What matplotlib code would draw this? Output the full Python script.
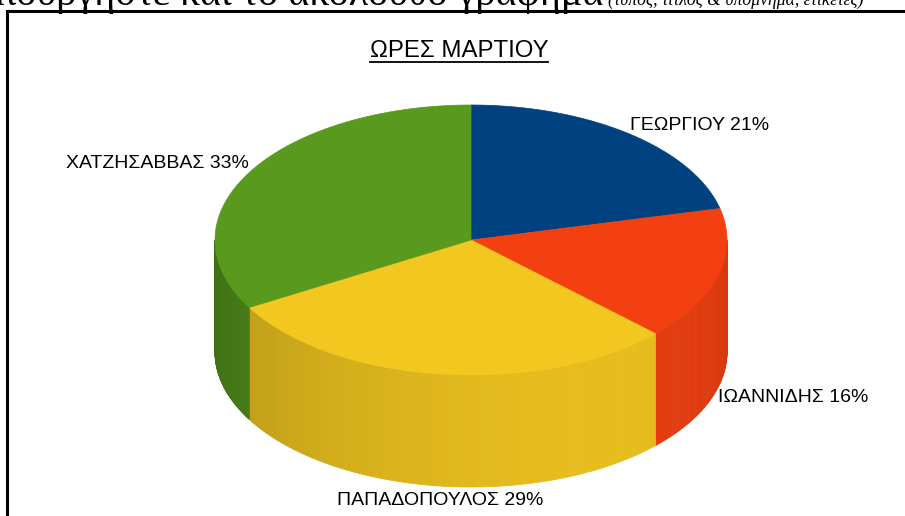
import numpy as np
import matplotlib.pyplot as plt
from matplotlib.patches import Polygon
from matplotlib.colors import to_rgb

# data: hours worked in March per employee
names = ['ΓΕΩΡΓΙΟΥ', 'ΙΩΑΝΝΙΔΗΣ', 'ΠΑΠΑΔΟΠΟΥΛΟΣ', 'ΧΑΤΖΗΣΑΒΒΑΣ']
hours = [44, 33, 61, 69]
top_colors = ['#00427F', '#F24011', '#F2C71F', '#58991E']
title = 'ΩΡΕΣ ΜΑΡΤΙΟΥ'
header = 'Δημιουργήστε και το ακόλουθο γράφημα'
header_note = '(τύπος, τίτλος & υπόμνημα, ετικέτες)'

W, H = 905, 516
fig = plt.figure(figsize=(W / 100, H / 100), dpi=100)
ax = fig.add_axes([0, 0, 1, 1])
ax.set_xlim(0, W)
ax.set_ylim(H, 0)
ax.axis('off')

# pie geometry in pixels
cx, cy, a, b, depth = 471, 240, 256, 135, 112


def ell(t, dy=0.0):
    r = np.radians(t)
    return cx + a * np.cos(r), cy - b * np.sin(r) + dy


fracs = np.array(hours) / sum(hours)
bounds = 90 - 360 * np.concatenate([[0], np.cumsum(fracs)])

# side walls (only front half, angles between -180 and 0)
for i, col in enumerate(top_colors):
    hi, lo = bounds[i], bounds[i + 1]
    f_hi, f_lo = min(hi, 0), max(lo, -180)
    if f_hi <= f_lo:
        continue
    ts = np.linspace(f_hi, f_lo, 60)
    base = np.array(to_rgb(col))
    for t1, t2 in zip(ts[:-1], ts[1:]):
        tm = 0.5 * (t1 + t2)
        shade = 0.8 + 0.15 * np.cos(np.radians(tm + 60))
        c = np.clip(base * shade, 0, 1)
        x1, y1 = ell(t1)
        x2, y2 = ell(t2)
        quad = [(x1, y1), (x2, y2), (x2, y2 + depth), (x1, y1 + depth)]
        ax.add_patch(Polygon(quad, closed=True, facecolor=c, edgecolor=c, lw=0.6))

# top faces
for i, col in enumerate(top_colors):
    hi, lo = bounds[i], bounds[i + 1]
    ts = np.linspace(hi, lo, 120)
    xs, ys = ell(ts)
    pts = [(cx, cy)] + list(zip(xs, ys))
    ax.add_patch(Polygon(pts, closed=True, facecolor=col, edgecolor=col, lw=0.5))

# data labels
for i, name in enumerate(names):
    mid = 0.5 * (bounds[i] + bounds[i + 1])
    c, s = np.cos(np.radians(mid)), np.sin(np.radians(mid))
    if s >= 0:
        x, y = ell(mid)
        va = 'bottom'
    else:
        x, y = ell(mid, depth - 6 * s)
        va = 'top'
    ha = 'left' if c > 0.3 else ('right' if c < -0.3 else 'center')
    ax.text(x, y, f'{name} {fracs[i] * 100:.0f}%', ha=ha, va=va,
            fontsize=14, family='Liberation Sans', color='black')

# chart title with underline
t = ax.text(459, 57, title, ha='center', va='baseline', fontsize=17.3,
            family='Liberation Sans', color='black')
fig.canvas.draw()
bb = t.get_window_extent().transformed(ax.transData.inverted())
ax.plot([bb.x0, bb.x1], [62, 62], color='black', lw=1.3)

# chart frame (cut by the image edges)
ax.plot([7, 7, W + 5], [H + 5, 11, 11], color='black', lw=2.2, clip_on=False,
        solid_joinstyle='miter')

# instruction line above the chart, mostly cut off
ax.text(603, 5, header, ha='right', va='baseline', fontsize=29,
        family='Liberation Serif', color='black')
ax.text(608, 5, header_note, ha='left', va='baseline', fontsize=12.7,
        family='Liberation Serif', style='italic', color='black')

fig.savefig('out.png', dpi=100)
